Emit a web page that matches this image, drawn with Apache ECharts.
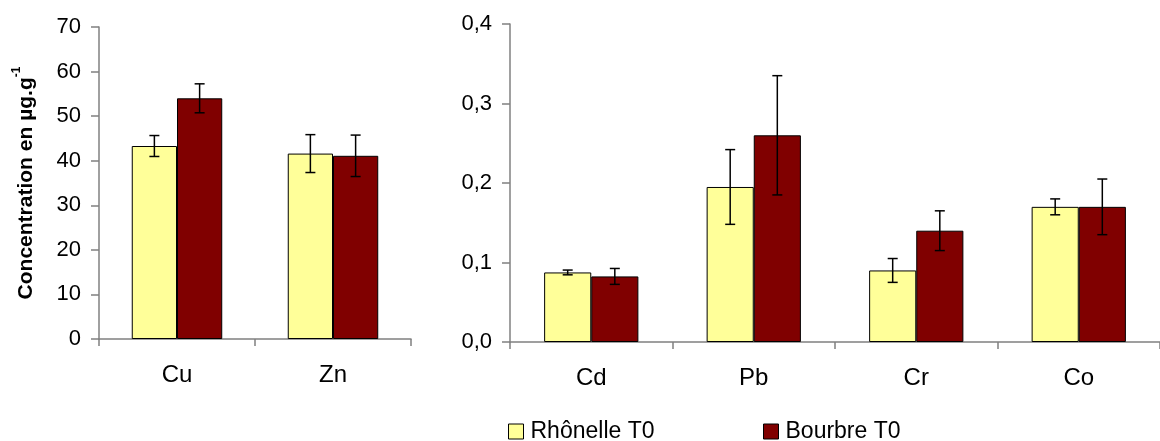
<!DOCTYPE html>
<html>
<head>
<meta charset="utf-8">
<script src="https://cdn.jsdelivr.net/npm/echarts@6/dist/echarts.min.js"></script>
<style>
html,body{margin:0;padding:0;background:#fff;}
#c{width:1160px;height:441px;}
</style>
</head>
<body>
<div id="c"></div>
<script>
// ---- data ----
const seriesNames = ['Rhônelle T0', 'Bourbre T0'];
const metalsA = ['Cu', 'Zn'];
const rhoneA = [43.3, 41.6];
const bourbreA = [54.0, 41.1];
const rhoneAErr = [2.35, 4.25];
const bourbreAErr = [3.25, 4.65];
const metalsB = ['Cd', 'Pb', 'Cr', 'Co'];
const rhoneB = [0.0875, 0.195, 0.090, 0.170];
const bourbreB = [0.0825, 0.260, 0.140, 0.170];
const rhoneBErr = [0.003, 0.047, 0.015, 0.010];
const bourbreBErr = [0.010, 0.075, 0.025, 0.035];
const ticksA = [0, 70, 10];
const ticksB = [0, 0.4, 0.1];

const FONT = '"Liberation Sans", Arial, sans-serif';
const YELLOW = '#FFFF99';
const RED = '#800000';
const AXIS = '#808080';
const GAP = 0.42;

function errData(vals, errs, s) {
  return vals.map((v, i) => [i, v - errs[i], v + errs[i], s]);
}
function renderErr(params, api) {
  const ci = api.value(0), lo = api.value(1), hi = api.value(2), s = api.value(3);
  const band = api.size([1, 0])[0];
  const barW = band * (1 - GAP) / 2;
  const x = api.coord([ci, 0])[0] + (s === 0 ? -barW / 2 : barW / 2);
  const y1 = api.coord([ci, lo])[1], y2 = api.coord([ci, hi])[1];
  const st = { stroke: '#000', lineWidth: 1.5 };
  return {
    type: 'group',
    children: [
      { type: 'line', shape: { x1: x, y1: y1, x2: x, y2: y2 }, style: st },
      { type: 'line', shape: { x1: x - 5, y1: y1, x2: x + 5, y2: y1 }, style: st },
      { type: 'line', shape: { x1: x - 5, y1: y2, x2: x + 5, y2: y2 }, style: st }
    ]
  };
}

function xAxisCfg(grid, cats) {
  return {
    type: 'category', gridIndex: grid, data: cats,
    axisLine: { lineStyle: { color: AXIS, width: 1.5 } },
    axisTick: { show: true, length: 7, lineStyle: { color: AXIS, width: 1.5 } },
    axisLabel: { color: '#000', fontFamily: FONT, fontSize: 24, margin: 24 },
    splitLine: { show: false }
  };
}
function yAxisCfg(grid, t, fmt, extra) {
  return Object.assign({
    type: 'value', gridIndex: grid, min: t[0], max: t[1], interval: t[2],
    axisLine: { show: true, lineStyle: { color: AXIS, width: 1.5 } },
    axisTick: { show: true, length: 8, lineStyle: { color: AXIS, width: 1.5 } },
    axisLabel: { color: '#000', fontFamily: FONT, fontSize: 22, margin: 18, formatter: fmt },
    splitLine: { show: false }
  }, extra || {});
}
const barStyle = (c) => ({ color: c, borderColor: '#000', borderWidth: 1 });
const legendBase = {
  top: 420, padding: 0, itemWidth: 15, itemHeight: 15, icon: 'rect',
  itemStyle: { borderColor: '#000', borderWidth: 1 },
  textStyle: { fontFamily: FONT, fontSize: 23, color: '#000', padding: [0, 0, 0, 2] }
};

const option = {
  backgroundColor: '#fff',
  animation: false,
  grid: [
    { left: 99, top: 27, width: 312, height: 312 },
    { left: 510, top: 24, width: 660, height: 318 }
  ],
  legend: [
    Object.assign({ left: 508, data: [seriesNames[0]] }, legendBase),
    Object.assign({ left: 763, data: [seriesNames[1]] }, legendBase)
  ],
  xAxis: [xAxisCfg(0, metalsA), xAxisCfg(1, metalsB)],
  yAxis: [
    yAxisCfg(0, ticksA, (v) => String(v), {
      name: '{a|Concentration en µg.g}{s|-1}',
      nameLocation: 'middle', nameRotate: 90, nameGap: 62,
      nameTextStyle: {
        rich: {
          a: { fontFamily: FONT, fontSize: 21, fontWeight: 'bold', color: '#000', lineHeight: 26, verticalAlign: 'bottom' },
          s: { fontFamily: FONT, fontSize: 12, fontWeight: 'bold', color: '#000', lineHeight: 26, verticalAlign: 'top' }
        }
      }
    }),
    yAxisCfg(1, ticksB, (v) => v.toFixed(1).replace('.', ','))
  ],
  series: [
    { name: seriesNames[0], type: 'bar', xAxisIndex: 0, yAxisIndex: 0, data: rhoneA, barGap: '0%', barCategoryGap: '42%', itemStyle: barStyle(YELLOW) },
    { name: seriesNames[1], type: 'bar', xAxisIndex: 0, yAxisIndex: 0, data: bourbreA, barGap: '0%', barCategoryGap: '42%', itemStyle: barStyle(RED) },
    { name: seriesNames[0], type: 'bar', xAxisIndex: 1, yAxisIndex: 1, data: rhoneB, barGap: '0%', barCategoryGap: '42%', itemStyle: barStyle(YELLOW) },
    { name: seriesNames[1], type: 'bar', xAxisIndex: 1, yAxisIndex: 1, data: bourbreB, barGap: '0%', barCategoryGap: '42%', itemStyle: barStyle(RED) },
    { type: 'custom', xAxisIndex: 0, yAxisIndex: 0, renderItem: renderErr, z: 10,
      data: errData(rhoneA, rhoneAErr, 0).concat(errData(bourbreA, bourbreAErr, 1)) },
    { type: 'custom', xAxisIndex: 1, yAxisIndex: 1, renderItem: renderErr, z: 10,
      data: errData(rhoneB, rhoneBErr, 0).concat(errData(bourbreB, bourbreBErr, 1)) }
  ]
};
const chart = echarts.init(document.getElementById('c'), null, { renderer: 'canvas' });
chart.setOption(option);
</script>
</body>
</html>
